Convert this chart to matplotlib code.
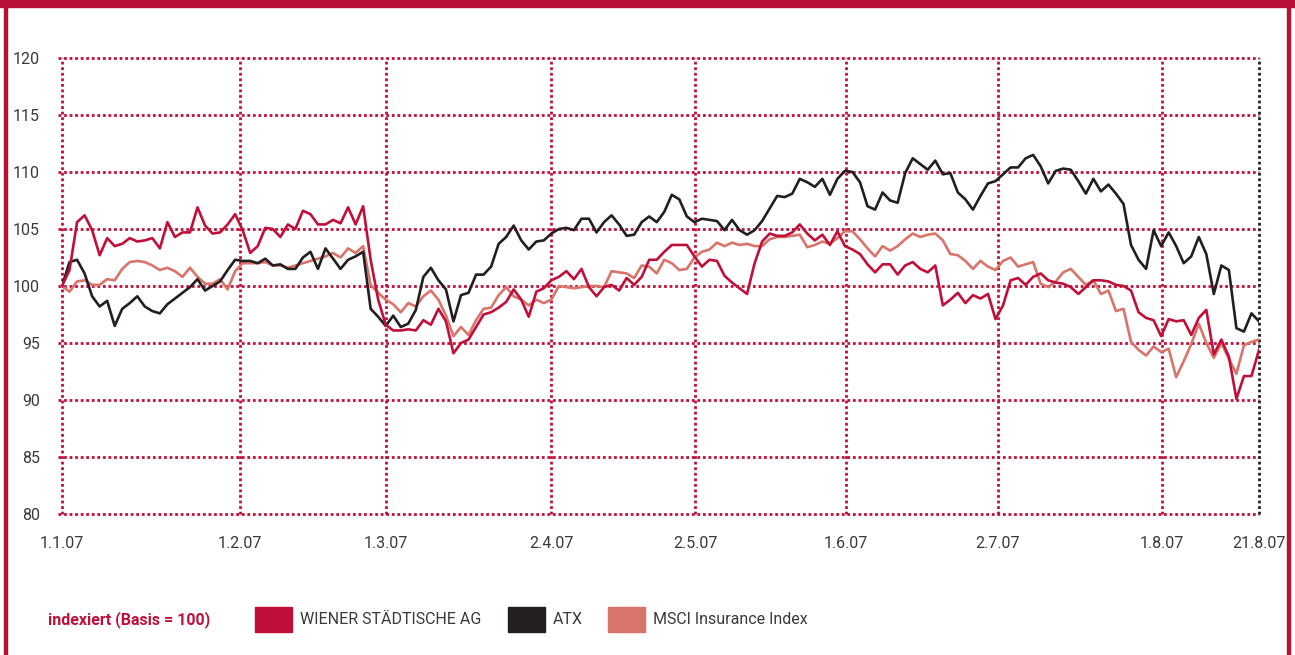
import matplotlib.pyplot as plt
from matplotlib.patches import Rectangle

# Kursentwicklung 1.1.07 - 21.8.07, indexiert (Basis = 100), Handelstage
wiener = [100, 101.4, 105.6, 106.2, 104.9, 102.7, 104.2, 103.5, 103.7, 104.2,
          103.9, 104.0, 104.2, 103.3, 105.6, 104.3, 104.7, 104.7, 106.9, 105.3,
          104.6, 104.7, 105.4, 106.3, 104.9, 102.9, 103.5, 105.1, 105.0, 104.3,
          105.4, 105.0, 106.6, 106.3, 105.4, 105.4, 105.8, 105.5, 106.9, 105.4,
          107.0, 102.3, 98.8, 96.6, 96.1, 96.1, 96.2, 96.1, 97.0, 96.6,
          98.0, 96.9, 94.1, 95.0, 95.3, 96.4, 97.5, 97.7, 98.1, 98.6,
          99.7, 98.8, 97.3, 99.5, 99.8, 100.5, 100.8, 101.3, 100.6, 101.5,
          99.9, 99.1, 99.9, 100.1, 99.6, 100.7, 100.1, 100.8, 102.3, 102.3,
          103.0, 103.6, 103.6, 103.6, 102.6, 101.7, 102.3, 102.2, 100.9, 100.3,
          99.8, 99.3, 102.0, 103.9, 104.6, 104.4, 104.4, 104.7, 105.4, 104.6,
          104.0, 104.5, 103.6, 104.8, 103.5, 103.2, 102.8, 101.9, 101.2, 101.9,
          101.9, 101.0, 101.8, 102.1, 101.5, 101.2, 101.8, 98.3, 98.8, 99.4,
          98.5, 99.2, 98.9, 99.3, 97.1, 98.3, 100.5, 100.7, 100.1, 100.8,
          101.1, 100.5, 100.3, 100.2, 99.9, 99.3, 99.9, 100.5, 100.5, 100.4,
          100.1, 100.0, 99.6, 97.7, 97.2, 97.0, 95.6, 97.1, 96.9, 97.0,
          95.7, 97.2, 97.9, 94.0, 95.3, 93.8, 90.1, 92.1, 92.1, 94.4]

atx = [100, 102.1, 102.3, 101.1, 99.1, 98.2, 98.7, 96.5, 98.0, 98.5,
       99.1, 98.2, 97.8, 97.6, 98.4, 98.9, 99.4, 99.9, 100.6, 99.6,
       100.0, 100.4, 101.4, 102.3, 102.2, 102.2, 102.0, 102.4, 101.8, 101.9,
       101.5, 101.5, 102.5, 103.0, 101.5, 103.3, 102.4, 101.5, 102.3, 102.6,
       103.0, 98.0, 97.3, 96.5, 97.4, 96.4, 96.7, 97.9, 100.8, 101.6,
       100.5, 99.7, 96.9, 99.2, 99.4, 101.0, 101.0, 101.7, 103.7, 104.3,
       105.3, 104.0, 103.2, 103.9, 104.0, 104.6, 105.0, 105.1, 104.9, 105.9,
       105.9, 104.7, 105.6, 106.2, 105.4, 104.4, 104.5, 105.6, 106.1, 105.6,
       106.5, 108.0, 107.6, 106.1, 105.6, 105.9, 105.8, 105.7, 104.9, 105.8,
       104.9, 104.5, 104.9, 105.7, 106.8, 107.9, 107.8, 108.1, 109.4, 109.1,
       108.7, 109.4, 108.0, 109.4, 110.1, 110.0, 109.1, 107.0, 106.7, 108.2,
       107.5, 107.3, 109.9, 111.2, 110.7, 110.2, 111.0, 109.8, 109.9, 108.2,
       107.6, 106.7, 107.9, 109.0, 109.2, 109.8, 110.4, 110.4, 111.2, 111.5,
       110.5, 109.0, 110.1, 110.3, 110.2, 109.2, 108.1, 109.4, 108.3, 108.9,
       108.1, 107.2, 103.6, 102.3, 101.5, 104.9, 103.5, 104.7, 103.5, 102.0,
       102.6, 104.3, 102.8, 99.3, 101.8, 101.4, 96.3, 96.0, 97.6, 96.9]

msci = [100, 99.5, 100.4, 100.5, 100.1, 100.1, 100.6, 100.5, 101.5, 102.1,
        102.2, 102.1, 101.8, 101.4, 101.6, 101.3, 100.8, 101.6, 100.8, 100.2,
        100.2, 100.6, 99.7, 101.3, 102.0, 102.0, 102.0, 102.1, 101.8, 101.8,
        101.6, 101.8, 102.0, 102.2, 102.4, 102.6, 102.9, 102.5, 103.3, 102.9,
        103.5, 100.1, 99.4, 98.8, 98.4, 97.7, 98.5, 98.2, 99.1, 99.6,
        98.8, 97.4, 95.6, 96.4, 95.7, 97.0, 98.0, 98.1, 99.2, 99.9,
        99.1, 98.8, 98.3, 98.8, 98.5, 98.8, 100.0, 99.9, 99.8, 99.9,
        100.0, 100.0, 99.9, 101.3, 101.2, 101.1, 100.7, 101.8, 101.7, 101.1,
        102.3, 102.0, 101.4, 101.5, 102.5, 103.0, 103.2, 103.8, 103.5, 103.8,
        103.6, 103.7, 103.5, 103.5, 104.1, 104.3, 104.3, 104.4, 104.5, 103.4,
        103.6, 103.9, 103.7, 104.2, 104.8, 104.8, 104.1, 103.3, 102.6, 103.5,
        103.1, 103.5, 104.1, 104.6, 104.3, 104.5, 104.6, 104.0, 102.8, 102.7,
        102.2, 101.5, 102.2, 101.7, 101.4, 102.2, 102.5, 101.7, 101.9, 102.1,
        100.2, 99.9, 100.4, 101.2, 101.5, 100.8, 100.1, 100.5, 99.3, 99.6,
        97.8, 98.0, 95.1, 94.4, 93.9, 94.7, 94.2, 94.5, 92.0, 93.4,
        94.9, 96.7, 95.0, 93.7, 95.0, 93.6, 92.3, 94.8, 95.1, 95.3]

tick_labels = ['1.1.07', '1.2.07', '1.3.07', '2.4.07', '2.5.07',
               '1.6.07', '2.7.07', '1.8.07', '21.8.07']
tick_pos = [0, 23.6, 43, 65, 84.1, 104.1, 124.3, 146.1, 159]
y_ticks = [80, 85, 90, 95, 100, 105, 110, 115, 120]

rot = '#c0103a'
schwarz = '#231f20'
lachs = '#d9746b'
grau = '#3a3a3a'

plt.rcParams['font.family'] = ['Roboto', 'DejaVu Sans']

fig = plt.figure(figsize=(12.95, 6.55), dpi=100)
ax = fig.add_axes([62 / 1295, 1 - 514 / 655, 1197 / 1295, 456 / 655])

x = list(range(len(wiener)))
ax.plot(x, msci, color=lachs, lw=1.9, zorder=3)
ax.plot(x, atx, color=schwarz, lw=1.9, zorder=4)
ax.plot(x, wiener, color=rot, lw=1.9, zorder=5)

ax.set_xlim(0, len(wiener) - 1)
ax.set_ylim(80, 120)
ax.set_xticks(tick_pos)
ax.set_xticklabels(tick_labels)
ax.set_yticks(y_ticks)
ax.tick_params(length=0, labelsize=11.5, colors=grau)
ax.tick_params(axis='y', pad=16)
ax.tick_params(axis='x', pad=16)
for s in ax.spines.values():
    s.set_visible(False)

# gepunktetes Raster
for yv in y_ticks:
    ax.axhline(yv, xmin=-4 / 1197, xmax=1, color=rot, lw=2, ls=(0, (1, 1)),
               zorder=1, clip_on=False)
for i, xv in enumerate(tick_pos):
    c = schwarz if i == len(tick_pos) - 1 else rot
    ax.axvline(xv, color=c, lw=2, ls=(0, (1, 1)), zorder=2, clip_on=False)

# Rahmen
rahmen = '#b80f36'
fig.patches.append(Rectangle((0, 1 - 7 / 655), 1, 7 / 655,
                             transform=fig.transFigure, color=rahmen))
fig.patches.append(Rectangle((4 / 1295, 0), 2.5 / 1295, 1,
                             transform=fig.transFigure, color=rahmen))
fig.patches.append(Rectangle((1287 / 1295, 0), 2.5 / 1295, 1,
                             transform=fig.transFigure, color=rahmen))

# Legende
ly = 1 - 620 / 655
fig.text(48 / 1295, ly, 'indexiert (Basis = 100)', color=rot, fontsize=11.5,
         fontweight='bold', va='center')
legende = [(255, rot, 'WIENER STÄDTISCHE AG'), (508, schwarz, 'ATX'),
           (608, lachs, 'MSCI Insurance Index')]
for lx, c, t in legende:
    fig.patches.append(Rectangle((lx / 1295, 1 - 632 / 655), 37 / 1295,
                                 25 / 655, transform=fig.transFigure, color=c))
    fig.text((lx + 45) / 1295, ly, t, color=grau, fontsize=11.5, va='center')

fig.savefig('out.png', dpi=100)
